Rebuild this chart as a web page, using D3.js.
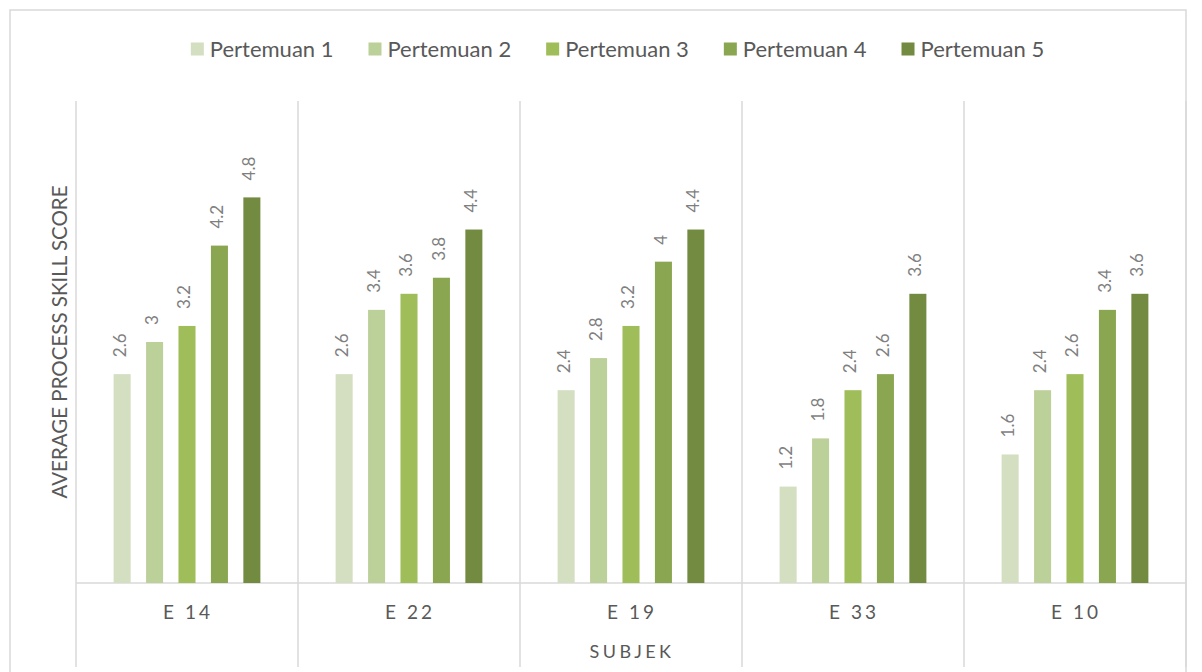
<!DOCTYPE html>
<html>
<head>
<meta charset="utf-8">
<script src="https://cdn.jsdelivr.net/npm/d3@7"></script>
<style>
  html, body { margin: 0; padding: 0; background: #ffffff; }
  svg { display: block; font-family: Lato, "Noto Sans", sans-serif; }
</style>
</head>
<body>
<svg id="chart" width="1202" height="672"></svg>
<script>
// ---- data ----
const categories = ["E 14", "E 22", "E 19", "E 33", "E 10"];
const seriesNames = ["Pertemuan 1", "Pertemuan 2", "Pertemuan 3", "Pertemuan 4", "Pertemuan 5"];
const pertemuan1 = [2.6, 2.6, 2.4, 1.2, 1.6];
const pertemuan2 = [3.0, 3.4, 2.8, 1.8, 2.4];
const pertemuan3 = [3.2, 3.6, 3.2, 2.4, 2.6];
const pertemuan4 = [4.2, 3.8, 4.0, 2.6, 3.4];
const pertemuan5 = [4.8, 4.4, 4.4, 3.6, 3.6];
const seriesColors = ["#d3dfc0", "#bcd09a", "#9fbd59", "#8aa651", "#738a41"];
const yTitle = "AVERAGE PROCESS SKILL SCORE";
const xTitle = "SUBJEK";

const seriesValues = [pertemuan1, pertemuan2, pertemuan3, pertemuan4, pertemuan5];

// ---- layout ----
const svg = d3.select("#chart");
const plot = { left: 76, right: 1186, top: 101, bottom: 583 };
const gridColor = "#d9d9d9";
const textColor = "#595959";

const x0 = d3.scaleBand().domain(categories).range([plot.left, plot.right]).paddingInner(0).paddingOuter(0);
const x1 = d3.scaleBand().domain(seriesNames).range([0, x0.bandwidth()]).paddingInner(0.475).paddingOuter(1.16);
const y = d3.scaleLinear().domain([0, 6]).range([plot.bottom, plot.top]);

// outer chart border
svg.append("rect")
  .attr("x", 10).attr("y", 10)
  .attr("width", 1176).attr("height", 700)
  .attr("fill", "none").attr("stroke", gridColor).attr("stroke-width", 1.5);

// category divider lines (vertical)
const dividers = categories.map(c => x0(c)).concat([plot.right]);
svg.append("g").selectAll("line").data(dividers).join("line")
  .attr("x1", d => d).attr("x2", d => d)
  .attr("y1", plot.top).attr("y2", 667)
  .attr("stroke", gridColor).attr("stroke-width", 1.5);

// baseline
svg.append("line")
  .attr("x1", plot.left).attr("x2", plot.right)
  .attr("y1", y(0)).attr("y2", y(0))
  .attr("stroke", gridColor).attr("stroke-width", 1.5);

// bars
const groups = svg.append("g").selectAll("g").data(categories).join("g")
  .attr("transform", d => `translate(${x0(d)},0)`);

const cells = groups.selectAll("g.cell")
  .data((c, ci) => seriesNames.map((s, si) => ({ s, si, v: seriesValues[si][ci] })))
  .join("g").attr("class", "cell");

cells.append("rect")
  .attr("x", d => x1(d.s))
  .attr("y", d => y(d.v))
  .attr("width", x1.bandwidth())
  .attr("height", d => y(0) - y(d.v))
  .attr("fill", d => seriesColors[d.si]);

cells.append("text")
  .attr("transform", d => `translate(${x1(d.s) + x1.bandwidth() / 2},${y(d.v) - 17}) rotate(-90)`)
  .attr("dy", "0.2em")
  .attr("text-anchor", "start")
  .attr("font-size", 17)
  .attr("fill", "#7f7f7f")
  .text(d => d3.format("~g")(d.v));

// category axis labels
svg.append("g").selectAll("text").data(categories).join("text")
  .attr("x", d => x0(d) + x0.bandwidth() / 2 + 1)
  .attr("y", 612)
  .attr("dy", "0.35em")
  .attr("text-anchor", "middle")
  .attr("font-size", 19)
  .attr("letter-spacing", 3)
  .attr("fill", textColor)
  .text(d => d);

// x title
svg.append("text")
  .attr("x", (plot.left + plot.right) / 2 + 1)
  .attr("y", 652)
  .attr("dy", "0.35em")
  .attr("text-anchor", "middle")
  .attr("font-size", 18)
  .attr("letter-spacing", 3.4)
  .attr("fill", textColor)
  .text(xTitle);

// y title
svg.append("text")
  .attr("transform", `translate(60,${(plot.top + plot.bottom) / 2}) rotate(-90)`)
  .attr("dy", "0.35em")
  .attr("text-anchor", "middle")
  .attr("font-size", 20.5)
  .attr("fill", textColor)
  .text(yTitle);

// legend
const legend = svg.append("g");
const items = legend.selectAll("g").data(seriesNames).join("g");
items.append("rect")
  .attr("width", 13).attr("height", 13)
  .attr("y", -6.5)
  .attr("fill", (d, i) => seriesColors[i]);
items.append("text")
  .attr("x", 19)
  .attr("dy", "0.35em")
  .attr("font-size", 22)
  .attr("fill", textColor)
  .text(d => d);
let cursor = 0;
items.each(function () {
  const w = d3.select(this).select("text").node().getComputedTextLength();
  d3.select(this).attr("transform", `translate(${cursor},0)`);
  cursor += 19 + w + 35;
});
const legendWidth = cursor - 35;
legend.attr("transform", `translate(${617.5 - legendWidth / 2},49)`);
</script>
</body>
</html>
